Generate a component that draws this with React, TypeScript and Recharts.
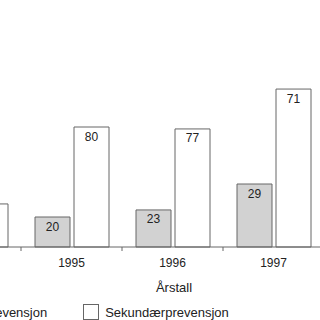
import React from "react";
import { BarChart, Bar, XAxis, YAxis, LabelList, Label } from "recharts";

// Årstall shown in the crop (1994 is only partly visible at the left edge)
const years = ["1994", "1995", "1996", "1997"];
// bar heights as drawn in the picture
const primaerHoyde = [null, 20, 24.7, 42];
const sekundaerHoyde = [28.7, 80, 78.7, 105.3];
// numbers printed inside the bars
const primaerTekst = [null, "20", "23", "29"];
const sekundaerTekst = [null, "80", "77", "71"];

const seriesNames = ["Primærprevensjon", "Sekundærprevensjon"];
const seriesFills = ["#d2d2d2", "#ffffff"];

const data = years.map((y, i) => ({
  year: y,
  primaer: primaerHoyde[i],
  sekundaer: sekundaerHoyde[i],
  primaerTekst: primaerTekst[i],
  sekundaerTekst: sekundaerTekst[i],
}));

const FONT = '"Liberation Sans", Arial, Helvetica, sans-serif';
const EDGE = "#666";
const TICK_SIZE = 4;
const TICK_MARGIN = 7;

// year label at the band centre, tick mark on the band's left edge
function YearTick(props: any) {
  const { x, y, payload } = props;
  const edge = x - (payload.offset || 0);
  const axisY = y - TICK_SIZE - TICK_MARGIN;
  return (
    <g>
      <line x1={edge} x2={edge} y1={axisY} y2={axisY + TICK_SIZE} stroke={EDGE} />
      <text
        x={x}
        y={y}
        dy="0.71em"
        textAnchor="middle"
        fontSize={12}
        fill="#222"
        fontFamily={FONT}
      >
        {payload.value}
      </text>
    </g>
  );
}

export default function App() {
  return (
    <div
      style={{
        position: "fixed",
        left: 0,
        top: 0,
        width: 320,
        height: 320,
        overflow: "hidden",
        background: "#fff",
        fontFamily: FONT,
      }}
    >
      <div style={{ position: "absolute", left: -80, top: 0 }}>
        <BarChart
          width={404}
          height={320}
          data={data}
          margin={{ top: 7, right: 0, bottom: 0, left: 0 }}
          barCategoryGap={13}
          barGap={4}
          barSize={35}
        >
          <YAxis hide domain={[0, 160]} />
          <XAxis
            dataKey="year"
            stroke={EDGE}
            tickLine={false}
            tickSize={TICK_SIZE}
            tickMargin={TICK_MARGIN}
            height={73}
            interval={0}
            tick={<YearTick />}
          >
            <Label
              value="Årstall"
              position="insideBottom"
              offset={28}
              dx={52}
              style={{ fontSize: 13, fill: "#222", fontFamily: FONT }}
            />
          </XAxis>
          <Bar
            dataKey="primaer"
            fill={seriesFills[0]}
            stroke={EDGE}
            strokeWidth={1}
            isAnimationActive={false}
          >
            <LabelList
              dataKey="primaerTekst"
              position="insideTop"
              offset={5}
              style={{ fontSize: 12, fill: "#222", fontFamily: FONT }}
            />
          </Bar>
          <Bar
            dataKey="sekundaer"
            fill={seriesFills[1]}
            stroke={EDGE}
            strokeWidth={1}
            isAnimationActive={false}
          >
            <LabelList
              dataKey="sekundaerTekst"
              position="insideTop"
              offset={5}
              style={{ fontSize: 12, fill: "#222", fontFamily: FONT }}
            />
          </Bar>
        </BarChart>
      </div>
      <div
        style={{
          position: "absolute",
          left: -81,
          top: 304,
          display: "flex",
          alignItems: "center",
          gap: 36,
          fontSize: 13,
          color: "#222",
          whiteSpace: "nowrap",
        }}
      >
        {seriesNames.map((name, i) => (
          <div key={name} style={{ display: "flex", alignItems: "center" }}>
            <span
              style={{
                display: "inline-block",
                width: 14,
                height: 14,
                border: `1px solid ${EDGE}`,
                background: seriesFills[i],
                marginRight: 6,
              }}
            />
            <span>{name}</span>
          </div>
        ))}
      </div>
    </div>
  );
}
